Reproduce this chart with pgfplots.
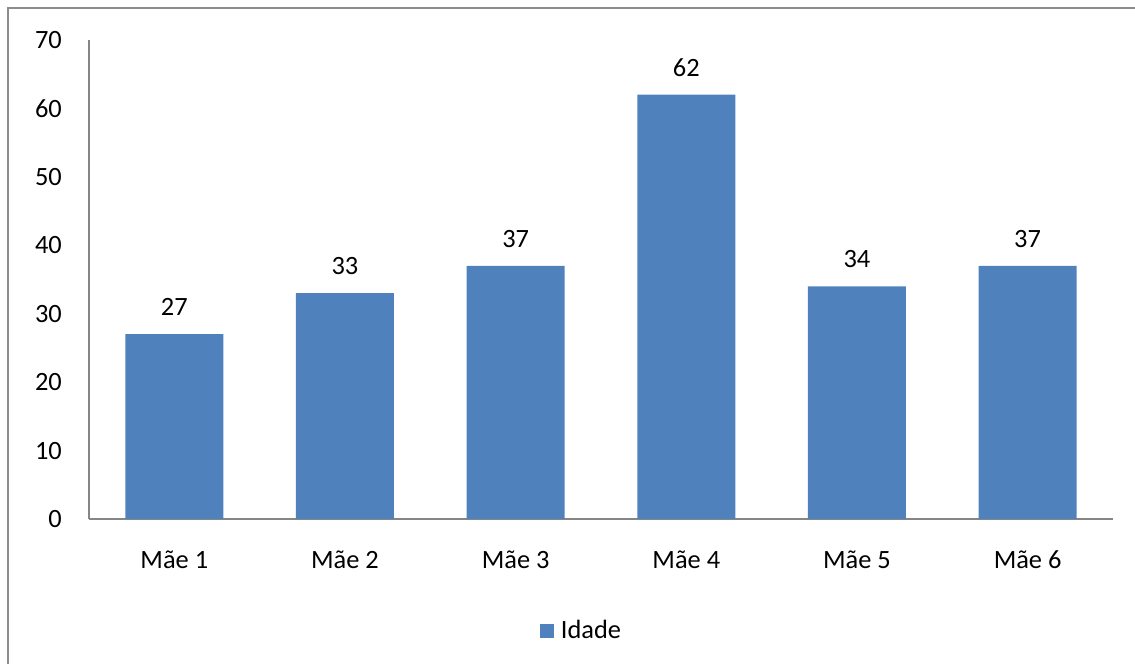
\documentclass[border=0pt]{standalone}
\usepackage{pgfplots}
\pgfplotsset{compat=1.18}
\usepackage{fontspec}
\setmainfont{Carlito}
\definecolor{barblue}{HTML}{4F81BD}
\definecolor{axgray}{HTML}{868686}
\definecolor{framegray}{HTML}{8C8C8C}
\begin{document}
\fontsize{26.5}{31}\selectfont
\begin{tikzpicture}[x=1bp,y=1bp]
\useasboundingbox (0,0) rectangle (1135,664);
\begin{scope}
\clip (0,0) rectangle (1135,664);
\draw[framegray, line width=2.5bp] (8,-20) rectangle (1160,656);
\end{scope}
\begin{axis}[
  at={(89bp,145bp)}, anchor=south west,
  scale only axis, width=1024bp, height=479bp,
  xmin=0.5, xmax=6.5, ymin=0, ymax=70,
  axis x line*=bottom, axis y line*=left,
  axis line style={axgray, line width=1.5bp},
  every outer x axis line/.append style={-},
  every outer y axis line/.append style={-},
  x axis line style={-}, y axis line style={-},
  major tick length=0pt,
  xtick={1,2,3,4,5,6},
  xticklabels={Mãe 1,Mãe 2,Mãe 3,Mãe 4,Mãe 5,Mãe 6},
  ytick={0,10,...,70},
  xticklabel style={anchor=center, inner sep=0pt, yshift=-41bp},
  yticklabel style={anchor=east, inner sep=0pt, xshift=-27bp},
  /pgf/number format/assume math mode=true,
  tick label style={font=\fontsize{26.5}{31}\selectfont},
  ybar, bar width=98bp, bar shift=0pt,
  nodes near coords,
  every node near coord/.append style={anchor=center, inner sep=0pt, yshift=27bp, font=\fontsize{26.5}{31}\selectfont, black},
  legend style={at={(0.481,-0.234)}, anchor=center, draw=none, fill=none, font=\fontsize{26.5}{31}\selectfont, inner sep=0pt},
  legend image code/.code={\fill[barblue] (0bp,-7bp) rectangle (14bp,7bp); \path (19bp,0bp);},
]
\addplot[fill=barblue, draw=none] coordinates {(1,27) (2,33) (3,37) (4,62) (5,34) (6,37)};
\addlegendentry{Idade}
\end{axis}
\end{tikzpicture}
\end{document}
